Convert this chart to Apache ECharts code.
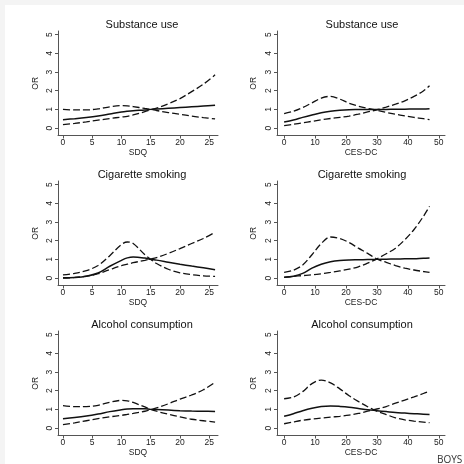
<!DOCTYPE html>
<html>
<head>
<meta charset="utf-8">
<script src="https://cdn.jsdelivr.net/npm/echarts@6/dist/echarts.min.js"></script>
<style>
  html, body { margin: 0; padding: 0; background: #fff; }
  #main { width: 464px; height: 464px; }
</style>
</head>
<body>
<div id="main"></div>
<script>
// x grids the curves are read at
const sdqX = [0, 2, 4, 6, 8, 10, 11, 12, 14, 15, 16, 18, 20, 22, 24, 26];
const cesX = [0, 3, 6, 9, 12, 15, 18, 21, 24, 27, 30, 33, 36, 39, 42, 45, 47];

const yTicks = [0, 1, 2, 3, 4, 5];
const sdqTicks = [0, 5, 10, 15, 20, 25];
const cesTicks = [0, 10, 20, 30, 40, 50];

const rowTitles = ["Substance use", "Cigarette smoking", "Alcohol consumption"];

// Substance use ~ SDQ (OR, and the two confidence bounds)
const subSdqOR = [0.45, 0.5, 0.56, 0.64, 0.75, 0.86, 0.9, 0.93, 0.97, 1.0, 1.02, 1.06, 1.1, 1.14, 1.18, 1.22];
const subSdqA = [1.0, 0.97, 0.97, 1.03, 1.14, 1.2, 1.19, 1.15, 1.05, 1.0, 0.94, 0.83, 0.74, 0.64, 0.56, 0.49];
const subSdqB = [0.18, 0.25, 0.33, 0.42, 0.51, 0.59, 0.63, 0.7, 0.88, 0.98, 1.07, 1.3, 1.58, 1.95, 2.35, 2.85];

// Substance use ~ CES-DC
const subCesOR = [0.32, 0.43, 0.57, 0.7, 0.82, 0.9, 0.95, 0.98, 0.99, 1.0, 1.0, 1.0, 1.01, 1.01, 1.02, 1.02, 1.03];
const subCesA = [0.77, 0.9, 1.1, 1.35, 1.6, 1.7, 1.55, 1.33, 1.17, 1.05, 0.95, 0.84, 0.74, 0.65, 0.57, 0.5, 0.45];
const subCesB = [0.13, 0.2, 0.28, 0.36, 0.44, 0.51, 0.57, 0.64, 0.74, 0.86, 0.98, 1.12, 1.28, 1.46, 1.7, 1.98, 2.27];

// Cigarette smoking ~ SDQ
const cigSdqOR = [0.01, 0.03, 0.1, 0.27, 0.63, 0.95, 1.08, 1.13, 1.07, 1.0, 0.96, 0.85, 0.74, 0.64, 0.55, 0.45];
const cigSdqA = [0.17, 0.25, 0.4, 0.67, 1.2, 1.8, 1.93, 1.85, 1.25, 1.0, 0.78, 0.47, 0.28, 0.18, 0.12, 0.09];
const cigSdqB = [0.0, 0.03, 0.1, 0.23, 0.45, 0.66, 0.74, 0.82, 0.95, 1.02, 1.1, 1.32, 1.58, 1.85, 2.12, 2.45];

// Cigarette smoking ~ CES-DC
const cigCesOR = [0.04, 0.1, 0.25, 0.53, 0.74, 0.87, 0.94, 0.97, 0.98, 0.99, 1.0, 1.01, 1.02, 1.03, 1.04, 1.06, 1.07];
const cigCesA = [0.3, 0.42, 0.7, 1.25, 1.85, 2.2, 2.12, 1.9, 1.6, 1.32, 1.02, 0.84, 0.67, 0.53, 0.43, 0.35, 0.3];
const cigCesB = [0.04, 0.09, 0.13, 0.17, 0.23, 0.3, 0.38, 0.48, 0.6, 0.8, 1.03, 1.3, 1.6, 2.05, 2.6, 3.3, 3.84];

// Alcohol consumption ~ SDQ
const alcSdqOR = [0.5, 0.56, 0.64, 0.75, 0.88, 0.98, 1.02, 1.04, 1.03, 1.0, 0.99, 0.96, 0.93, 0.91, 0.9, 0.89];
const alcSdqA = [1.2, 1.15, 1.15, 1.22, 1.38, 1.48, 1.46, 1.37, 1.13, 1.0, 0.9, 0.74, 0.6, 0.47, 0.39, 0.32];
const alcSdqB = [0.18, 0.28, 0.39, 0.5, 0.6, 0.68, 0.73, 0.78, 0.9, 0.99, 1.08, 1.3, 1.55, 1.77, 2.05, 2.45];

// Alcohol consumption ~ CES-DC
const alcCesOR = [0.63, 0.77, 0.93, 1.06, 1.15, 1.18, 1.16, 1.12, 1.05, 0.98, 0.93, 0.88, 0.83, 0.8, 0.77, 0.74, 0.73];
const alcCesA = [1.57, 1.66, 1.95, 2.38, 2.57, 2.42, 2.1, 1.73, 1.42, 1.14, 0.9, 0.72, 0.55, 0.44, 0.37, 0.32, 0.29];
const alcCesB = [0.23, 0.33, 0.42, 0.48, 0.53, 0.58, 0.63, 0.69, 0.78, 0.9, 1.02, 1.15, 1.33, 1.5, 1.67, 1.85, 1.98];

const panels = [
  { row: 0, col: 0, x: sdqX, curves: [subSdqOR, subSdqA, subSdqB] },
  { row: 0, col: 1, x: cesX, curves: [subCesOR, subCesA, subCesB] },
  { row: 1, col: 0, x: sdqX, curves: [cigSdqOR, cigSdqA, cigSdqB] },
  { row: 1, col: 1, x: cesX, curves: [cigCesOR, cigCesA, cigCesB] },
  { row: 2, col: 0, x: sdqX, curves: [alcSdqOR, alcSdqA, alcSdqB] },
  { row: 2, col: 1, x: cesX, curves: [alcCesOR, alcCesA, alcCesB] },
];

const font = "'Liberation Sans', Arial, sans-serif";
const axisColor = "#555";
const rowTop = [31, 181, 331];
const colLeft = [58, 277];
const colWidth = [160, 168];
const gridHeight = 104.5;
const titleX = [142, 362];

const myChart = echarts.init(document.getElementById("main"));

const grids = [], xAxes = [], yAxes = [], series = [], graphics = [];

// light frame at the top and left edge
graphics.push({ type: "rect", shape: { x: 0, y: 0, width: 464, height: 5 }, style: { fill: "#f4f4f4" } });
graphics.push({ type: "rect", shape: { x: 0, y: 0, width: 5, height: 464 }, style: { fill: "#f4f4f4" } });

panels.forEach((p, i) => {
  const isSdq = p.col === 0;
  grids.push({ left: colLeft[p.col], top: rowTop[p.row], width: colWidth[p.col], height: gridHeight });
  xAxes.push({
    type: "value",
    gridIndex: i,
    min: isSdq ? -0.85 : -2.3,
    max: isSdq ? 26.5 : 52,
    name: isSdq ? "SDQ" : "CES-DC",
    nameLocation: "middle",
    nameGap: 8,
    nameTextStyle: { fontSize: 8.5, color: "#222", fontFamily: font },
    axisLine: { onZero: false, lineStyle: { color: axisColor, width: 1 } },
    axisTick: { length: 3, customValues: isSdq ? sdqTicks : cesTicks, lineStyle: { color: axisColor } },
    axisLabel: { customValues: isSdq ? sdqTicks : cesTicks, fontSize: 8.5, margin: 3, color: "#222", fontFamily: font },
    splitLine: { show: false },
  });
  yAxes.push({
    type: "value",
    gridIndex: i,
    min: -0.4,
    max: 5.2,
    name: "OR",
    nameLocation: "middle",
    nameRotate: 90,
    nameGap: isSdq ? 18 : 19,
    nameTextStyle: { fontSize: 8.5, color: "#222", fontFamily: font },
    axisLine: { show: true, onZero: false, lineStyle: { color: axisColor, width: 1 } },
    axisTick: { show: true, length: 3, customValues: yTicks, lineStyle: { color: axisColor } },
    axisLabel: { customValues: yTicks, rotate: 90, fontSize: 8.5, margin: 4, color: "#222", fontFamily: font },
    splitLine: { show: false },
  });
  p.curves.forEach((vals, k) => {
    series.push({
      type: "line",
      xAxisIndex: i,
      yAxisIndex: i,
      data: p.x.map((xv, j) => [xv, vals[j]]),
      smooth: 0.35,
      showSymbol: false,
      silent: true,
      lineStyle: k === 0
        ? { color: "#111", width: 1.5, type: "solid" }
        : { color: "#111", width: 1.3, type: [7, 3] },
    });
  });
  graphics.push({
    type: "text",
    x: titleX[p.col],
    y: rowTop[p.row] - 6,
    style: { text: rowTitles[p.row], fontSize: 11, fontFamily: font, fill: "#111", textAlign: "center", textVerticalAlign: "middle" },
  });
});

graphics.push({
  type: "text",
  x: 437,
  y: 460,
  style: { text: "BOYS", fontSize: 10, fontFamily: "'Open Sans', sans-serif", fill: "#333", textAlign: "left", textVerticalAlign: "middle" },
});

var option = {
  backgroundColor: "#fff",
  animation: false,
  grid: grids,
  xAxis: xAxes,
  yAxis: yAxes,
  series: series,
  graphic: graphics,
};

option && myChart.setOption(option);
</script>
</body>
</html>
